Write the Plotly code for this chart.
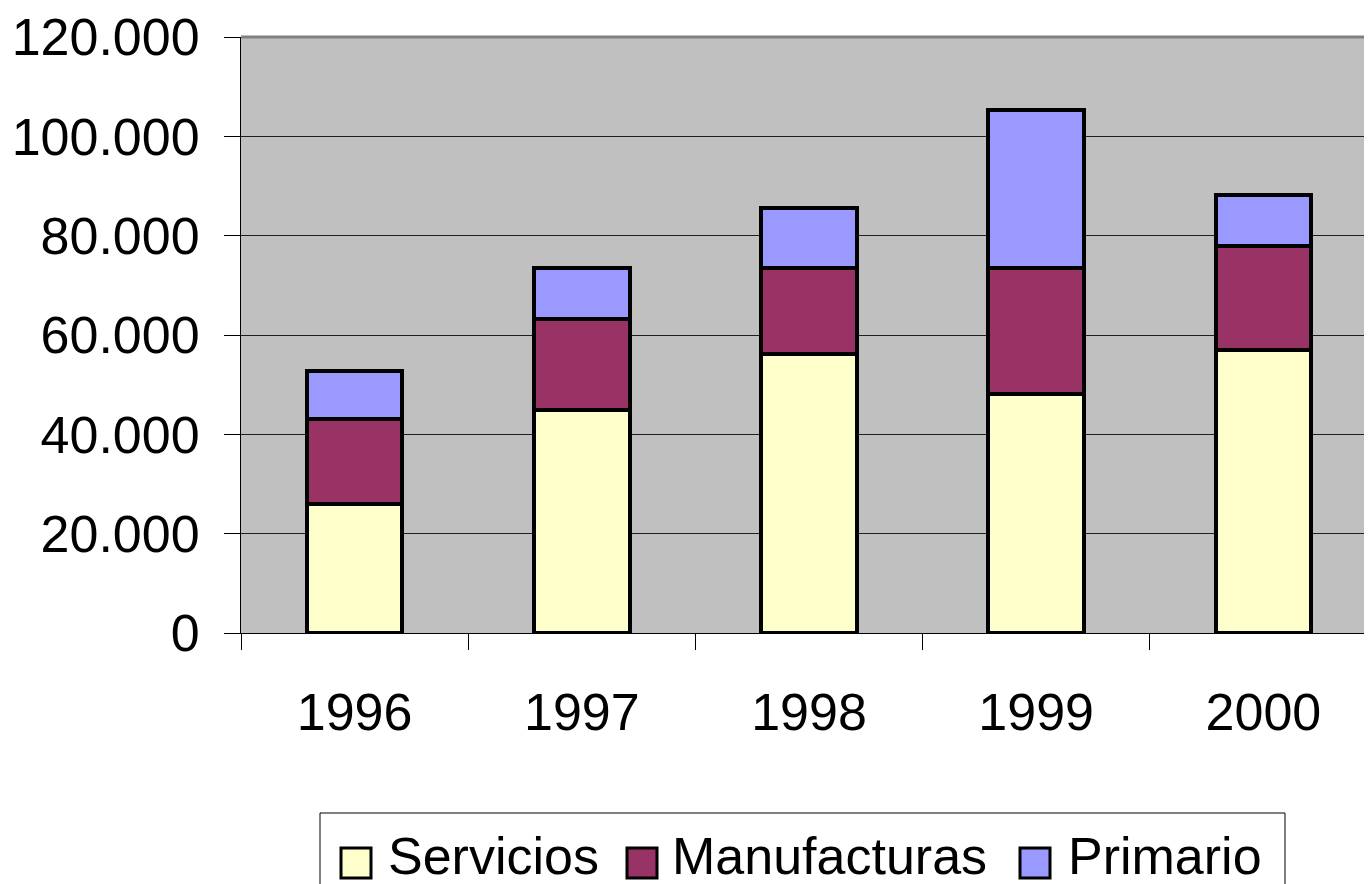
import plotly.graph_objects as go

years = ['1996', '1997', '1998', '1999', '2000']
servicios = [25900, 44900, 56100, 48200, 57000]
manufacturas = [17200, 18300, 17300, 25300, 20900]
primario = [9600, 10200, 12100, 31900, 10200]

series = [
    ('Servicios', servicios, '#FFFFCC'),
    ('Manufacturas', manufacturas, '#993366'),
    ('Primario', primario, '#9999FF'),
]

W, H = 1372, 884
OFF = 8  # page body margin
L, R, T, B = 241 - OFF, 0, 37 - OFF, 251 + OFF
FONT = 'Liberation Sans, Arial, sans-serif'


def px(x):
    # screen pixel -> paper x
    return (x - OFF - L) / (W - L - R)


def py(y):
    # screen pixel -> paper y
    return (H - B - (y - OFF)) / (H - B - T)


fig = go.Figure()
for name, vals, color in series:
    fig.add_trace(go.Bar(
        x=years, y=vals, name=name, width=0.42,
        marker=dict(color=color, line=dict(color='black', width=4)),
        showlegend=False
    ))

fig.update_layout(
    width=W, height=H,
    barmode='stack',
    separators=',.',
    margin=dict(l=L, r=R, t=T, b=B),
    paper_bgcolor='white',
    plot_bgcolor='#C0C0C0',
    font=dict(family=FONT, size=52, color='black'),
)

fig.update_yaxes(
    range=[0, 120000], dtick=20000, tickformat=',.0f',
    showgrid=True, gridcolor='#202020', gridwidth=1,
    showline=True, linecolor='black', linewidth=1,
    ticks='outside', ticklen=16, tickcolor='black',
    ticklabelstandoff=14, zeroline=False,
)
fig.update_xaxes(
    range=[-0.5, 4.478 + OFF / 227], tickson='boundaries',
    showline=True, linecolor='black', linewidth=1,
    ticks='outside', ticklen=16, tickcolor='black',
    ticklabelstandoff=34,
)

# top border of the plot area
fig.add_shape(type='line', xref='paper', yref='paper', x0=0, x1=1, y0=1, y1=1,
              line=dict(color='#808080', width=3))

# legend box
fig.add_shape(type='rect', xref='paper', yref='paper',
              x0=px(320), x1=px(1285), y0=py(813), y1=py(900),
              line=dict(color='black', width=1), fillcolor='white')

legend_items = [('Servicios', '#FFFFCC', 341, 386),
                ('Manufacturas', '#993366', 627, 670),
                ('Primario', '#9999FF', 1020, 1066)]
for name, color, sx, tx in legend_items:
    fig.add_shape(type='rect', xref='paper', yref='paper',
                  x0=px(sx), x1=px(sx + 30), y0=py(848), y1=py(878),
                  line=dict(color='black', width=3), fillcolor=color)
    fig.add_annotation(text=name, xref='paper', yref='paper',
                       x=px(tx), y=py(856), xanchor='left', yanchor='middle',
                       showarrow=False, font=dict(size=52, family=FONT))

fig.write_html('out.html')
